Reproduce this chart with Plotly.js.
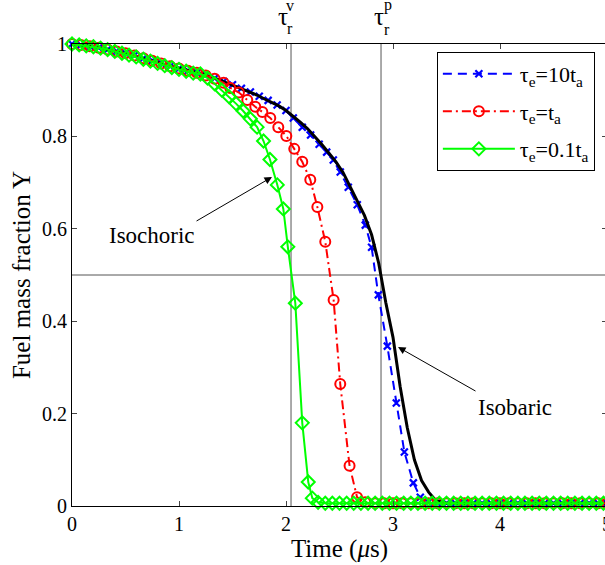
<!DOCTYPE html>
<html><head><meta charset="utf-8">
<script src="https://cdn.plot.ly/plotly-3.0.1.min.js"></script>
<style>html,body{margin:0;padding:0;overflow:hidden;background:#fff}</style>
</head><body><div id="chart" style="width:620px;height:565px"></div>
<script>
// Isobaric reference (black solid, not in legend)
const tIsobaric = [0,0.067,0.133,0.2,0.267,0.333,0.4,0.467,0.533,0.6,0.667,0.733,0.8,0.867,0.933,1.0,1.067,1.133,1.2,1.267,1.333,1.4,1.467,1.533,1.6,1.667,1.733,1.8,1.867,1.933,2.0,2.067,2.133,2.2,2.267,2.333,2.4,2.467,2.533,2.6,2.667,2.733,2.8,2.867,2.933,3.0,3.067,3.133,3.2,3.267,3.333,3.4,3.5,5.0];
const yIsobaric = [1.000,0.998,0.996,0.994,0.992,0.988,0.985,0.981,0.977,0.973,0.969,0.965,0.960,0.955,0.951,0.947,0.943,0.940,0.937,0.932,0.926,0.920,0.914,0.908,0.902,0.896,0.889,0.881,0.874,0.866,0.856,0.844,0.831,0.817,0.801,0.783,0.764,0.745,0.722,0.690,0.659,0.629,0.587,0.525,0.440,0.365,0.258,0.170,0.100,0.055,0.030,0.012,0.006,0.006];

// tau_e = 10 t_a (blue dashed, x markers)
const tSlow = [0,0.083,0.167,0.25,0.333,0.417,0.5,0.583,0.667,0.75,0.833,0.917,1.0,1.083,1.167,1.25,1.333,1.417,1.5,1.583,1.667,1.75,1.833,1.917,2.0,2.068,2.152,2.23,2.31,2.38,2.442,2.507,2.582,2.666,2.741,2.80,2.863,2.947,3.031,3.106,3.19,3.255,3.33,3.417,3.5,3.583,3.667,3.75,3.833,3.917,4.0,4.083,4.167,4.25,4.333,4.417,4.5,4.583,4.667,4.75,4.833,4.917,5.0];
const ySlow = [1.0,0.998,0.995,0.992,0.988,0.984,0.980,0.975,0.969,0.964,0.958,0.952,0.947,0.942,0.938,0.933,0.926,0.919,0.912,0.904,0.896,0.887,0.878,0.868,0.856,0.840,0.820,0.803,0.783,0.766,0.749,0.723,0.690,0.652,0.608,0.560,0.457,0.346,0.223,0.117,0.050,0.019,0.008,0.006,0.006,0.006,0.006,0.006,0.006,0.006,0.006,0.006,0.006,0.006,0.006,0.006,0.006,0.006,0.006,0.006,0.006,0.006,0.006];

// tau_e = t_a (red dash-dot, circles)
const tMid = [0,0.083,0.167,0.25,0.333,0.417,0.5,0.583,0.667,0.75,0.833,0.917,1.0,1.083,1.167,1.25,1.333,1.417,1.479,1.56,1.638,1.713,1.779,1.853,1.928,2.003,2.077,2.152,2.227,2.293,2.367,2.445,2.507,2.594,2.664,2.74,2.833,2.917,3.0,3.083,3.167,3.25,3.333,3.417,3.5,3.583,3.667,3.75,3.833,3.917,4.0,4.083,4.167,4.25,4.333,4.417,4.5,4.583,4.667,4.75,4.833,4.917,5.0];
const yMid = [1.0,0.998,0.995,0.992,0.988,0.984,0.980,0.975,0.969,0.964,0.958,0.952,0.947,0.942,0.938,0.932,0.925,0.916,0.905,0.895,0.879,0.864,0.853,0.840,0.820,0.801,0.773,0.745,0.706,0.647,0.572,0.446,0.264,0.087,0.019,0.008,0.006,0.006,0.006,0.006,0.006,0.006,0.006,0.006,0.006,0.006,0.006,0.006,0.006,0.006,0.006,0.006,0.006,0.006,0.006,0.006,0.006,0.006,0.006,0.006,0.006,0.006,0.006];

// tau_e = 0.1 t_a (green solid, diamonds)
const tFast = [0,0.067,0.133,0.2,0.267,0.333,0.4,0.467,0.533,0.6,0.667,0.733,0.8,0.867,0.933,1.0,1.067,1.133,1.2,1.267,1.333,1.4,1.467,1.533,1.6,1.667,1.73,1.79,1.85,1.919,1.975,2.017,2.087,2.152,2.208,2.246,2.30,2.367,2.433,2.5,2.567,2.633,2.7,2.767,2.833,2.9,2.967,3.033,3.1,3.167,3.233,3.3,3.367,3.433,3.5,3.567,3.633,3.7,3.767,3.833,3.9,3.967,4.033,4.1,4.167,4.233,4.3,4.367,4.433,4.5,4.567,4.633,4.7,4.767,4.833,4.9,4.967];
const yFast = [1.0,0.998,0.996,0.994,0.991,0.988,0.984,0.980,0.976,0.972,0.967,0.963,0.958,0.953,0.949,0.945,0.941,0.937,0.935,0.926,0.914,0.900,0.886,0.871,0.855,0.838,0.820,0.790,0.750,0.695,0.643,0.561,0.439,0.180,0.052,0.017,0.008,0.006,0.006,0.006,0.006,0.006,0.006,0.006,0.006,0.006,0.006,0.006,0.006,0.006,0.006,0.006,0.006,0.006,0.006,0.006,0.006,0.006,0.006,0.006,0.006,0.006,0.006,0.006,0.006,0.006,0.006,0.006,0.006,0.006,0.006,0.006,0.006,0.006,0.006,0.006,0.006];

// reference lines
const tauV = 2.047;   // isochoric reaction time
const tauP = 2.888;   // isobaric reaction time
const yHalf = 0.5;

const legendNames = ['τ<sub>e</sub>=10t<sub>a</sub>', 'τ<sub>e</sub>=t<sub>a</sub>', 'τ<sub>e</sub>=0.1t<sub>a</sub>'];
const xTicks = [0,1,2,3,4,5];
const yTicks = [0,0.2,0.4,0.6,0.8,1];

const serif = 'Liberation Serif';

const traces = [
  {x:tSlow, y:ySlow, name:legendNames[0], mode:'lines+markers', legendgroup:'a',
   line:{color:'#0000ff', width:2, dash:'9px,6px'},
   marker:{symbol:'x-thin-open', size:7, color:'#0000ff', line:{color:'#0000ff', width:2.2}}, cliponaxis:false},
  {x:tIsobaric, y:yIsobaric, name:'Isobaric', mode:'lines', showlegend:false,
   line:{color:'#000000', width:3}, cliponaxis:false},
  {x:tMid, y:yMid, name:legendNames[1], mode:'lines+markers', legendgroup:'b',
   line:{color:'#ff0000', width:2, dash:'9px,4px,2px,4px'},
   marker:{symbol:'circle-open', size:10, color:'#ff0000', line:{color:'#ff0000', width:2}}, cliponaxis:false},
  {x:tFast, y:yFast, name:legendNames[2], mode:'lines+markers', legendgroup:'c',
   line:{color:'#00ff00', width:2},
   marker:{symbol:'diamond-open', size:10, color:'#00ff00', line:{color:'#00ff00', width:2}}, cliponaxis:false}
];

const layout = {
  width:620, height:565,
  margin:{l:72, r:13, t:44, b:59},
  paper_bgcolor:'#ffffff', plot_bgcolor:'#ffffff',
  font:{family:serif, color:'#000', size:20},
  showlegend:true,
  legend:{x:0.682, y:0.983, xanchor:'left', yanchor:'top', bordercolor:'#000', borderwidth:1,
          bgcolor:'#fff', font:{family:serif, size:22}, itemwidth:72, tracegroupgap:6},
  xaxis:{range:[0,5], tickvals:xTicks, ticktext:xTicks.map(String), ticks:'inside', ticklen:5, mirror:'ticks',
         showline:true, linecolor:'#000', linewidth:1, showgrid:false, zeroline:false,
         tickfont:{family:serif, size:20}, title:{text:'Time (<i>μ</i>s)', font:{family:serif, size:25}, standoff:0}},
  yaxis:{range:[0,1], tickvals:yTicks, ticktext:yTicks.map(String), ticks:'inside', ticklen:5, mirror:'ticks',
         showline:true, linecolor:'#000', linewidth:1, showgrid:false, zeroline:false,
         tickfont:{family:serif, size:20}, title:{text:'Fuel mass fraction Y', font:{family:serif, size:25}, standoff:4}},
  shapes:[
    {type:'line', xref:'x', yref:'paper', x0:tauV, x1:tauV, y0:0, y1:1, layer:'below', line:{color:'#555', width:1}},
    {type:'line', xref:'x', yref:'paper', x0:tauP, x1:tauP, y0:0, y1:1, layer:'below', line:{color:'#555', width:1}},
    {type:'line', xref:'paper', yref:'y', x0:0, x1:1, y0:yHalf, y1:yHalf, layer:'below', line:{color:'#555', width:1}}
  ],
  annotations:[
    {xref:'x', yref:'paper', x:tauV, y:1.060, yanchor:'middle', xshift:-8, text:'τ', showarrow:false, font:{family:serif, size:25}},
    {xref:'x', yref:'paper', x:tauV, y:1.084, yanchor:'middle', xshift:-1, text:'v', showarrow:false, font:{family:serif, size:16}},
    {xref:'x', yref:'paper', x:tauV, y:1.034, yanchor:'middle', xshift:-1, text:'r', showarrow:false, font:{family:serif, size:16}},
    {xref:'x', yref:'paper', x:tauP, y:1.060, yanchor:'middle', xshift:-2, text:'τ', showarrow:false, font:{family:serif, size:25}},
    {xref:'x', yref:'paper', x:tauP, y:1.085, yanchor:'middle', xshift:7, text:'p', showarrow:false, font:{family:serif, size:16}},
    {xref:'x', yref:'paper', x:tauP, y:1.032, yanchor:'middle', xshift:6, text:'r', showarrow:false, font:{family:serif, size:16}},
    {xref:'x', yref:'y', x:0.745, y:0.586, text:'Isochoric', showarrow:false, font:{family:serif, size:23}},
    {xref:'x', yref:'y', x:1.869, y:0.712, ax:1.150, ay:0.615, axref:'x', ayref:'y', text:'', showarrow:true,
     arrowhead:2, arrowsize:1.5, arrowwidth:1, arrowcolor:'#000', standoff:0, startstandoff:0},
    {xref:'x', yref:'y', x:4.14, y:0.214, text:'Isobaric', showarrow:false, font:{family:serif, size:23}},
    {xref:'x', yref:'y', x:3.047, y:0.344, ax:3.785, ay:0.247, axref:'x', ayref:'y', text:'', showarrow:true,
     arrowhead:2, arrowsize:1.5, arrowwidth:1, arrowcolor:'#000', standoff:0, startstandoff:0}
  ]
};

Plotly.newPlot('chart', traces, layout, {displayModeBar:false, staticPlot:true});
</script></body></html>
